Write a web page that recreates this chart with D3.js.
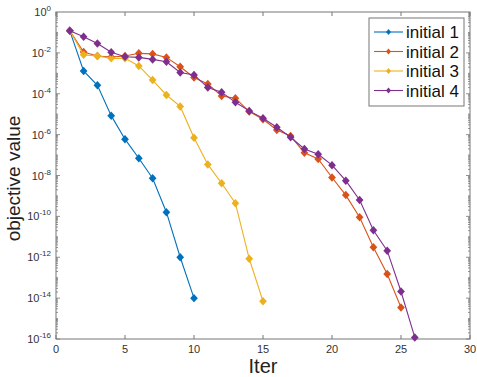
<!DOCTYPE html>
<html>
<head>
<meta charset="utf-8">
<script src="https://cdn.jsdelivr.net/npm/d3@7"></script>
<style>
  body { margin: 0; background: #fff; }
  text { font-family: "Liberation Sans", Arial, sans-serif; }
</style>
</head>
<body>
<div id="chart"></div>
<script>
// series values
const seriesNames = ['initial 1', 'initial 2', 'initial 3', 'initial 4'];
const seriesColors = ['#0072BD', '#D95319', '#EDB120', '#7E2F8E'];
const initial1 = [0.12, 1.3e-3, 2.6e-4, 8.5e-6, 6e-7, 7e-8, 7.3e-9, 1.6e-10, 1e-12, 1e-14];
const initial2 = [0.12, 1.1e-2, 7e-3, 6.3e-3, 7e-3, 9.5e-3, 8.9e-3, 6e-3, 2.1e-3, 6.2e-4, 3e-4,
  7.8e-5, 6e-5, 1.35e-5, 5.6e-6, 1.7e-6, 8.5e-7, 1.3e-7, 6.5e-8, 8e-9, 1.1e-9, 9e-11, 3.1e-12, 1.5e-13, 3.5e-15];
const initial3 = [0.12, 8e-3, 7e-3, 5.4e-3, 5.4e-3, 2.3e-3, 4.7e-4, 8.7e-5, 2.4e-5, 7e-7, 3.5e-8,
  4.2e-9, 4.4e-10, 8.5e-13, 7e-15];
const initial4 = [0.12, 6.2e-2, 2.9e-2, 1.07e-2, 6.5e-3, 6e-3, 4.8e-3, 3.7e-3, 1.1e-3, 8.3e-4, 2e-4,
  1.2e-4, 3.8e-5, 1.45e-5, 6.3e-6, 2.3e-6, 7.4e-7, 2e-7, 1.1e-7, 3.2e-8, 5.6e-9, 6.3e-10, 2.1e-11,
  2.1e-12, 2.1e-14, 1.2e-16];
const xTicks = [0, 5, 10, 15, 20, 25, 30];
const yTickExps = [0, -2, -4, -6, -8, -10, -12, -14, -16];

const width = 477, height = 377;
const margin = { top: 12, right: 7, bottom: 38, left: 56 };
const axisColor = '#777';

const svg = d3.select('#chart').append('svg')
  .attr('width', width)
  .attr('height', height);

const x = d3.scaleLinear().domain([0, 30]).range([margin.left, width - margin.right]);
const y = d3.scaleLog().domain([1e-16, 1]).range([height - margin.bottom, margin.top]);

// box
svg.append('rect')
  .attr('x', x(0)).attr('y', y(1))
  .attr('width', x(30) - x(0)).attr('height', y(1e-16) - y(1))
  .attr('fill', 'none').attr('stroke', axisColor).attr('stroke-width', 1);

// x ticks (inward, bottom and top)
const xAxisG = svg.append('g');
xTicks.forEach(t => {
  xAxisG.append('line').attr('x1', x(t)).attr('x2', x(t))
    .attr('y1', y(1e-16)).attr('y2', y(1e-16) - 4).attr('stroke', axisColor);
  xAxisG.append('line').attr('x1', x(t)).attr('x2', x(t))
    .attr('y1', y(1)).attr('y2', y(1) + 4).attr('stroke', axisColor);
  xAxisG.append('text')
    .attr('x', x(t)).attr('y', y(1e-16) + 14)
    .attr('text-anchor', 'middle').attr('font-size', 11).attr('fill', '#333')
    .text(t);
});

// y ticks: minor at every k*10^n, major on labelled decades
const yAxisG = svg.append('g');
for (let n = -16; n < 0; n++) {
  for (let k = 1; k <= 9; k++) {
    const v = k * Math.pow(10, n);
    const len = (k === 1 && n % 2 === 0) ? 4 : 2;
    yAxisG.append('line').attr('x1', x(0)).attr('x2', x(0) + len)
      .attr('y1', y(v)).attr('y2', y(v)).attr('stroke', axisColor).attr('stroke-width', 0.8);
    yAxisG.append('line').attr('x1', x(30)).attr('x2', x(30) - len)
      .attr('y1', y(v)).attr('y2', y(v)).attr('stroke', axisColor).attr('stroke-width', 0.8);
  }
}
yTickExps.forEach(e => {
  const t = yAxisG.append('text')
    .attr('x', x(0) - 5).attr('y', y(Math.pow(10, e)) + 4)
    .attr('text-anchor', 'end').attr('font-size', 11).attr('fill', '#333');
  t.append('tspan').text('10');
  t.append('tspan').attr('dy', -5).attr('font-size', 8).text(e);
});

// axis labels
svg.append('text')
  .attr('x', (x(0) + x(30)) / 2).attr('y', height - 4)
  .attr('text-anchor', 'middle').attr('font-size', 20).attr('fill', '#222')
  .text('Iter');
svg.append('text')
  .attr('transform', `translate(20, ${(y(1) + y(1e-16)) / 2 + 3}) rotate(-90)`)
  .attr('text-anchor', 'middle').attr('font-size', 19).attr('fill', '#222')
  .text('objective value');

// series
const allSeries = [initial1, initial2, initial3, initial4];
const line = d3.line().x((d, i) => x(i + 1)).y(d => y(d));
const diamond = d3.symbol().type(d3.symbolDiamond2).size(38);
const plot = svg.append('g');
allSeries.forEach((vals, s) => {
  plot.append('path')
    .datum(vals)
    .attr('d', line)
    .attr('fill', 'none')
    .attr('stroke', seriesColors[s])
    .attr('stroke-width', 1.1);
  plot.selectAll(null)
    .data(vals)
    .join('path')
    .attr('transform', (d, i) => `translate(${x(i + 1)},${y(d)}) scale(1,1.1)`)
    .attr('d', diamond)
    .attr('fill', seriesColors[s]);
});

// legend
const legend = svg.append('g').attr('transform', 'translate(369, 18)');
legend.append('rect')
  .attr('width', 95).attr('height', 88)
  .attr('fill', '#fff').attr('stroke', axisColor);
const legendMarker = d3.symbol().type(d3.symbolDiamond2).size(16);
seriesNames.forEach((name, s) => {
  const ly = 14 + s * 19.5;
  legend.append('line').attr('x1', 5).attr('x2', 34).attr('y1', ly).attr('y2', ly)
    .attr('stroke', seriesColors[s]).attr('stroke-width', 1.1);
  legend.append('path').attr('d', legendMarker)
    .attr('transform', `translate(19.5,${ly}) scale(1,1.2)`)
    .attr('fill', seriesColors[s]);
  legend.append('text').attr('x', 37).attr('y', ly + 6)
    .attr('font-size', 17).attr('fill', '#111')
    .text(name);
});
</script>
</body>
</html>
